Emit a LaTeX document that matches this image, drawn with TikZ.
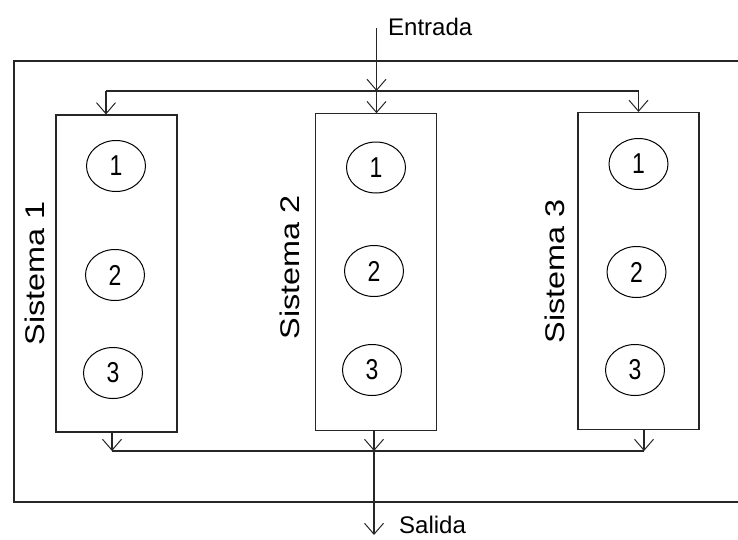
\documentclass[tikz,border=0pt]{standalone}
\usepackage{fontspec}
\setmainfont{Liberation Sans}
\usetikzlibrary{arrows.meta,shapes.geometric}
\begin{document}
\begin{tikzpicture}[x=1pt,y=-1pt,
  ln/.style={line width=1.1pt,draw=black!85},
  arr/.style={ln,-{Straight Barb[length=11pt,width=19pt,line width=1pt]}},
  sysbox/.style={ln,draw,rectangle,minimum width=121pt,minimum height=317pt,inner sep=0pt},
  proc/.style={draw,ellipse,line width=1pt,minimum width=59pt,minimum height=51pt,inner sep=0pt,font=\fontsize{23}{24}\selectfont},
  lbl/.style={font=\fontsize{24}{28}\selectfont,inner sep=0pt},
  slbl/.style={rotate=90,font=\fontsize{27}{30}\selectfont,inner sep=0pt}]
\newcommand{\dg}[1]{\scalebox{1}[1.25]{#1}}
\newcommand{\sy}[1]{\scalebox{1.2}[1]{#1}}
\useasboundingbox (0,0) rectangle (738,539);
\clip (0,0) rectangle (738,539);
\draw[ln] (745,61) -- (14,61) -- (14,502) -- (745,502);
% boxes
\node[sysbox] (s1) at (116.5,273.5) {};
\node[sysbox] (s2) at (376,272.25) {};
\node[sysbox] (s3) at (638.5,271) {};
% ellipses
\node[proc] (a1) at (116,166) {\dg{1}};
\node[proc] (a2) at (115,275) {\dg{2}};
\node[proc] (a3) at (113,373) {\dg{3}};
\node[proc] (b1) at (376,167.5) {\dg{1}};
\node[proc] (b2) at (374,271) {\dg{2}};
\node[proc] (b3) at (372,370) {\dg{3}};
\node[proc] (c1) at (638.5,164) {\dg{1}};
\node[proc] (c2) at (636.5,272) {\dg{2}};
\node[proc] (c3) at (635,370) {\dg{3}};
% labels
\node[slbl] (l1) at (35,273) {\sy{Sistema 1}};
\node[slbl] (l2) at (290,267) {\sy{Sistema 2}};
\node[slbl] (l3) at (555,271) {\sy{Sistema 3}};
\node[lbl,anchor=west] (in) at (388,27) {Entrada};
\node[lbl,anchor=west] (out) at (399,525) {Salida};
% coordinates
\coordinate (top) at (376.5,28);
\coordinate (j2) at (376.5,91);
\coordinate (j1) at (106,91);
\coordinate (j3) at (638.5,91);
\coordinate (k1) at (112,451);
\coordinate (k2) at (374,451);
\coordinate (k3) at (644,451);
\coordinate (end) at (374,535);
% input distribution
\draw[arr] (top) -- (j2);
\draw[ln] (j1) -- (j3);
\draw[arr] (j1) -- (j1 |- s1.north);
\draw[arr] (j2) -- (j2 |- s2.north);
\draw[arr] (j3) -- (j3 |- s3.north);
% output collection
\draw[arr] (k1 |- s1.south) -- (k1);
\draw[arr] (k2 |- s2.south) -- (k2);
\draw[arr] (k3 |- s3.south) -- (k3);
\draw[ln] (k1) -- (k3);
\draw[arr] (k2) -- (end);
\end{tikzpicture}
\end{document}
